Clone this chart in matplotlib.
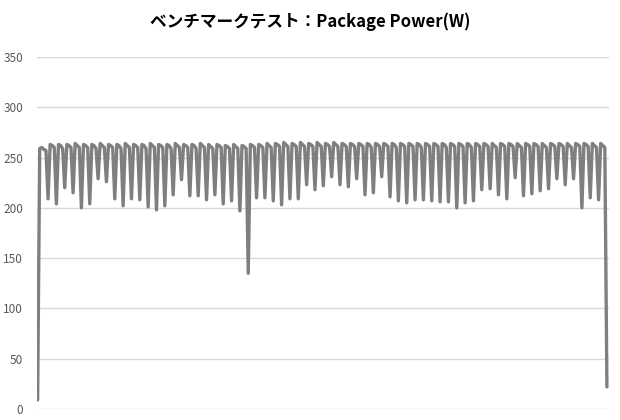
import matplotlib
matplotlib.use("Agg")
import matplotlib.pyplot as plt

plt.rcParams['font.family'] = ['Noto Sans CJK JP', 'DejaVu Sans']

title = "ベンチマークテスト：Package Power(W)"
y_ticks = [0, 50, 100, 150, 200, 250, 300, 350]

# Package power samples (W)
power = [
    9, 259, 260, 258, 257,
    209, 263, 262, 260,
    204, 263, 262, 259,
    220, 263, 262, 260,
    215, 264, 262, 260,
    200, 263, 262, 260,
    204, 263, 262, 259,
    229, 264, 262, 260,
    226, 263, 262, 260,
    209, 263, 262, 259,
    202, 264, 262, 260,
    209, 263, 262, 260,
    208, 263, 262, 259,
    201, 264, 262, 260,
    198, 263, 262, 260,
    202, 263, 262, 259,
    213, 264, 262, 260,
    228, 263, 262, 260,
    212, 263, 262, 259,
    212, 264, 262, 260,
    208, 263, 261, 259,
    213, 263, 262, 260,
    204, 262, 261, 259,
    207, 263, 261, 259,
    197, 262, 261, 259,
    135, 263, 262, 260,
    210, 263, 262, 260,
    210, 264, 262, 260,
    207, 264, 263, 261,
    203, 265, 263, 261,
    209, 264, 263, 261,
    209, 265, 263, 261,
    223, 264, 263, 261,
    218, 265, 263, 261,
    222, 264, 263, 261,
    231, 265, 263, 261,
    223, 264, 263, 261,
    221, 264, 263, 261,
    229, 264, 263, 261,
    213, 264, 263, 260,
    215, 264, 263, 261,
    231, 264, 263, 261,
    211, 264, 263, 260,
    207, 264, 263, 261,
    205, 264, 263, 261,
    208, 264, 263, 260,
    208, 264, 263, 261,
    207, 264, 263, 261,
    206, 264, 263, 260,
    206, 264, 263, 261,
    200, 264, 263, 261,
    205, 264, 263, 260,
    207, 264, 263, 261,
    218, 264, 263, 261,
    219, 264, 262, 260,
    213, 264, 263, 261,
    209, 264, 263, 261,
    230, 264, 262, 260,
    212, 264, 263, 261,
    214, 264, 263, 261,
    217, 264, 262, 260,
    219, 264, 263, 261,
    229, 264, 263, 261,
    223, 264, 262, 260,
    229, 264, 263, 261,
    200, 264, 263, 261,
    210, 264, 262, 260,
    208, 264, 262, 260,
    22,
]

fig = plt.figure(figsize=(6.2, 4.2), dpi=100)
ax = fig.add_axes([37 / 620, (420 - 409) / 420, (609 - 37) / 620, (409 - 57) / 420])

ax.plot(range(len(power)), power, color='#7f7f7f', linewidth=2.4,
        solid_joinstyle='round', solid_capstyle='round', zorder=3)

ax.set_ylim(0, 350)
ax.set_xlim(-0.3, len(power) - 1 + 1.0)
ax.set_yticks(y_ticks)
ax.set_xticks([])
ax.grid(axis='y', color='#d9d9d9', linewidth=1.0, zorder=0)
for s in ax.spines.values():
    s.set_visible(False)
ax.tick_params(axis='y', length=0, pad=10, labelsize=8.5, labelcolor='#595959')

fig.text(0.5, (420 - 22) / 420, title, ha='center', va='center',
         fontsize=12, fontweight='bold', color='#000000')

fig.savefig('out.png', dpi=100)
